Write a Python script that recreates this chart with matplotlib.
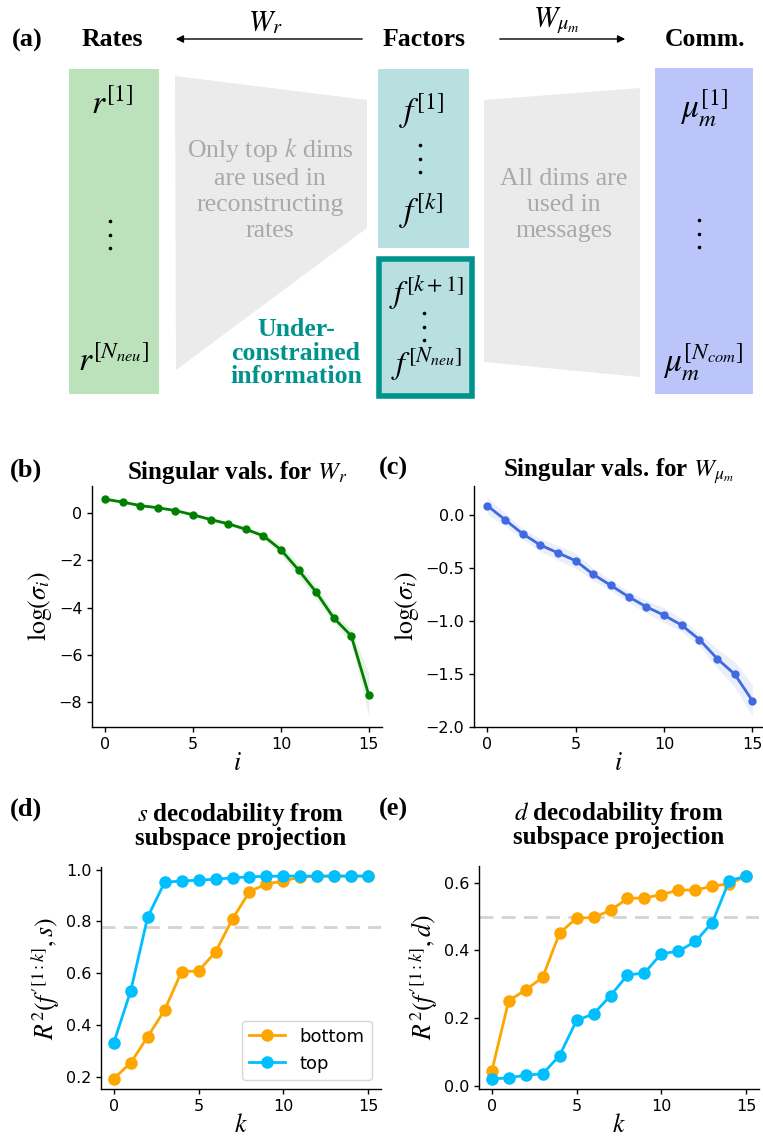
import numpy as np
import matplotlib
matplotlib.use("Agg")
import matplotlib.pyplot as plt
from matplotlib.patches import Rectangle, Polygon

plt.rcParams['mathtext.fontset'] = 'stix'
plt.rcParams['font.serif'] = ['Liberation Serif', 'DejaVu Serif']

# ---------------- data ----------------
idx = np.arange(16)
wr_logsv = [0.59, 0.47, 0.32, 0.23, 0.11, -0.07, -0.27, -0.45, -0.68, -0.96,
            -1.55, -2.40, -3.34, -4.43, -5.19, -7.70]
wr_spread = [0.05, 0.05, 0.05, 0.05, 0.05, 0.05, 0.06, 0.07, 0.09, 0.12,
             0.22, 0.28, 0.28, 0.22, 0.28, 0.90]
wm_logsv = [0.085, -0.047, -0.18, -0.286, -0.36, -0.434, -0.563, -0.667, -0.774,
            -0.868, -0.947, -1.041, -1.176, -1.355, -1.503, -1.752]
wm_spread = [0.08, 0.06, 0.05, 0.06, 0.07, 0.07, 0.06, 0.05, 0.05, 0.06,
             0.07, 0.06, 0.06, 0.09, 0.12, 0.15]

k_vals = np.arange(16)
s_bottom = [0.192, 0.253, 0.354, 0.457, 0.606, 0.608, 0.682, 0.809, 0.915, 0.945,
            0.955, 0.972, 0.974, 0.975, 0.975, 0.975]
s_top = [0.330, 0.531, 0.816, 0.951, 0.956, 0.959, 0.963, 0.968, 0.972, 0.974,
         0.975, 0.975, 0.975, 0.975, 0.975, 0.975]
s_ref = 0.78
d_bottom = [0.042, 0.251, 0.283, 0.320, 0.451, 0.495, 0.497, 0.518, 0.553, 0.555,
            0.564, 0.578, 0.578, 0.589, 0.597, 0.619]
d_top = [0.020, 0.023, 0.031, 0.035, 0.089, 0.193, 0.212, 0.266, 0.327, 0.333,
         0.390, 0.397, 0.426, 0.482, 0.606, 0.619]
d_ref = 0.497
series_labels = ['bottom', 'top']

W, H = 763, 1145
fig = plt.figure(figsize=(W / 100, H / 100), dpi=100)

def fax(l, t, r, b):
    return fig.add_axes([l / W, 1 - b / H, (r - l) / W, (b - t) / H])

# ---------------- panel (a) diagram ----------------
ax = fig.add_axes([0, 1 - 420 / H, 1, 420 / H])
ax.set_xlim(0, W)
ax.set_ylim(420, 0)
ax.axis('off')

serif = dict(family='serif')
green = '#bce2bc'
teal = '#b9e0e0'
blue = '#bcc5fa'
gray = '#ebebeb'
gtxt = '#a9a9a9'
dteal = '#00928c'

ax.text(27, 40, '(a)', ha='center', va='center', fontsize=19, fontweight='bold', **serif)
ax.text(112, 40, 'Rates', ha='center', va='center', fontsize=18.5, fontweight='bold', **serif)
ax.text(424, 40, 'Factors', ha='center', va='center', fontsize=18.5, fontweight='bold', **serif)
ax.text(705, 40, 'Comm.', ha='center', va='center', fontsize=18.5, fontweight='bold', **serif)
ax.annotate('', xy=(173, 39), xytext=(365, 39),
            arrowprops=dict(arrowstyle='-|>', color='black', lw=1.0, mutation_scale=11))
ax.annotate('', xy=(628, 39), xytext=(497, 39),
            arrowprops=dict(arrowstyle='-|>', color='black', lw=1.0, mutation_scale=11))
ax.text(265, 22, r'$W_r$', ha='center', va='center', fontsize=21)
ax.text(557, 21, r'$W_{\mu_m}$', ha='center', va='center', fontsize=21)

ax.add_patch(Rectangle((69, 69), 90, 325, facecolor=green, edgecolor='none'))
ax.add_patch(Rectangle((378, 69), 91, 179, facecolor=teal, edgecolor='none'))
ax.add_patch(Rectangle((379, 259), 93, 137, facecolor=teal, edgecolor=dteal, lw=4))
ax.add_patch(Rectangle((655, 68), 98, 326, facecolor=blue, edgecolor='none'))
ax.add_patch(Polygon([(175, 76), (367, 100), (367, 228), (176, 370)],
                     closed=True, facecolor=gray, edgecolor='none'))
ax.add_patch(Polygon([(484, 100), (640, 88), (640, 377), (484, 362)],
                     closed=True, facecolor=gray, edgecolor='none'))

def vdots(x, y0, step=13.5):
    ax.plot([x, x, x], [y0, y0 + step, y0 + 2 * step], 'o', color='black', ms=2.6,
            mec='none')

ax.text(112, 104, r'$r^{[1]}$', ha='center', va='center', fontsize=24)
vdots(110, 221)
ax.text(113, 361, r'$r^{[N_{neu}]}$', ha='center', va='center', fontsize=24)

ax.text(422, 111, r'$f^{[1]}$', ha='center', va='center', fontsize=24)
vdots(420, 145)
ax.text(421, 211, r'$f^{[k]}$', ha='center', va='center', fontsize=24)
ax.text(426, 293, r'$f^{[k+1]}$', ha='center', va='center', fontsize=23)
vdots(424, 313)
ax.text(426, 364, r'$f^{[N_{neu}]}$', ha='center', va='center', fontsize=23)

ax.text(704, 108, r'$\mu_m^{[1]}$', ha='center', va='center', fontsize=24)
vdots(699, 220)
ax.text(703, 362, r'$\mu_m^{[N_{com}]}$', ha='center', va='center', fontsize=24)

ax.text(270, 189, 'Only top $k$ dims\nare used in\nreconstructing\nrates', ha='center',
        va='center', fontsize=18.5, color=gtxt, linespacing=1.22, **serif)
ax.text(564, 205, 'All dims are\nused in\nmessages', ha='center', va='center',
        fontsize=18.5, color=gtxt, linespacing=1.22, **serif)
ax.text(296, 353, 'Under-\nconstrained\ninformation', ha='center', va='center',
        fontsize=18.5, fontweight='bold', color=dteal, linespacing=1.05, **serif)

# ---------------- helpers ----------------
def style(a):
    a.spines['top'].set_visible(False)
    a.spines['right'].set_visible(False)
    for s in ('left', 'bottom'):
        a.spines[s].set_linewidth(1.0)
    a.tick_params(labelsize=11.5, width=1.0, length=3.5)

title_kw = dict(fontsize=18, fontweight='bold', family='serif')
lab_kw = dict(fontsize=18.5)
plab_kw = dict(fontsize=19, fontweight='bold', family='serif')

# ---------------- panel (b) ----------------
axb = fax(92, 486, 382, 727)
style(axb)
wr = np.array(wr_logsv); wrs = np.array(wr_spread)
axb.fill_between(idx, wr - wrs, wr + wrs, color='green', alpha=0.1, lw=0)
axb.plot(idx, wr, '-o', color='green', lw=2, ms=5)
axb.set_xlim(-0.75, 15.75)
axb.set_ylim(-9.05, 1.15)
axb.set_xticks([0, 5, 10, 15])
axb.set_yticks([0, -2, -4, -6, -8])
axb.set_title(r'Singular vals. for $W_r$', pad=5, **title_kw)
axb.set_ylabel(r'$\log(\sigma_i)$', labelpad=3, **lab_kw)
axb.set_xlabel(r'$i$', labelpad=-1, **lab_kw)
fig.text(10 / W, 1 - 470 / H, '(b)', ha='left', va='center', **plab_kw)

# ---------------- panel (c) ----------------
axc = fax(474, 486, 763, 727)
style(axc)
wm = np.array(wm_logsv); wms = np.array(wm_spread)
axc.fill_between(idx, wm - wms, wm + wms, color='royalblue', alpha=0.1, lw=0)
axc.plot(idx, wm, '-o', color='royalblue', lw=2, ms=5)
axc.set_xlim(-0.75, 15.6)
axc.set_ylim(-2.0, 0.27)
axc.set_xticks([0, 5, 10, 15])
axc.set_yticks([0.0, -0.5, -1.0, -1.5, -2.0])
axc.set_title(r'Singular vals. for $W_{\mu_m}$', pad=5, **title_kw)
axc.set_ylabel(r'$\log(\sigma_i)$', labelpad=3, **lab_kw)
axc.set_xlabel(r'$i$', labelpad=-1, **lab_kw)
fig.text(379 / W, 1 - 468 / H, '(c)', ha='left', va='center', **plab_kw)

# ---------------- panel (d) ----------------
axd = fax(101, 867, 381, 1089)
style(axd)
axd.axhline(s_ref, color='lightgray', ls='--', lw=2, dashes=(5, 3), zorder=1)
axd.plot(k_vals, s_bottom, '-o', color='orange', lw=2, ms=8, label=series_labels[0])
axd.plot(k_vals, s_top, '-o', color='deepskyblue', lw=2, ms=8, label=series_labels[1])
axd.set_xlim(-0.75, 15.75)
axd.set_ylim(0.152, 1.01)
axd.set_xticks([0, 5, 10, 15])
axd.set_yticks([0.2, 0.4, 0.6, 0.8, 1.0])
axd.set_title('$s$ decodability from\nsubspace projection', pad=16, linespacing=0.95,
              **title_kw)
axd.set_ylabel(r"$R^2(f^{\prime[1:k]},s)$", labelpad=3, **lab_kw)
axd.set_xlabel(r'$k$', labelpad=-1, **lab_kw)
axd.legend(loc='lower right', fontsize=13)
fig.text(10 / W, 1 - 809 / H, '(d)', ha='left', va='center', **plab_kw)

# ---------------- panel (e) ----------------
axe = fax(479, 866, 759, 1089)
style(axe)
axe.axhline(d_ref, color='lightgray', ls='--', lw=2, dashes=(5, 3), zorder=1)
axe.plot(k_vals, d_bottom, '-o', color='orange', lw=2, ms=8, label=series_labels[0])
axe.plot(k_vals, d_top, '-o', color='deepskyblue', lw=2, ms=8, label=series_labels[1])
axe.set_xlim(-0.75, 15.75)
axe.set_ylim(-0.0098, 0.649)
axe.set_xticks([0, 5, 10, 15])
axe.set_yticks([0.0, 0.2, 0.4, 0.6])
axe.set_title('$d$ decodability from\nsubspace projection', pad=16, linespacing=0.95,
              **title_kw)
axe.set_ylabel(r"$R^2(f^{\prime[1:k]},d)$", labelpad=3, **lab_kw)
axe.set_xlabel(r'$k$', labelpad=-1, **lab_kw)
fig.text(379 / W, 1 - 809 / H, '(e)', ha='left', va='center', **plab_kw)

fig.savefig('out.png', dpi=100)
